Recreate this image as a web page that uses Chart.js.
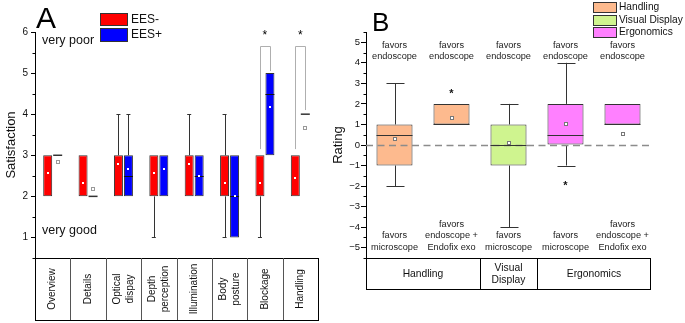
<!DOCTYPE html>
<html><head><meta charset="utf-8">
<script src="https://cdn.jsdelivr.net/npm/chart.js@4.4.1/dist/chart.umd.min.js"></script>
<style>
html,body{margin:0;padding:0;background:#fff;}
#wrap{position:relative;width:685px;height:323px;overflow:hidden;background:#fff;}
#ca{position:absolute;left:0;top:0;}
#cb{position:absolute;left:325px;top:0;}
</style></head><body>
<div id="wrap"><canvas id="ca" width="340" height="323"></canvas><canvas id="cb" width="360" height="323"></canvas></div>
<script>
const FONT = "'Liberation Sans', Arial, sans-serif";

// ---------------- Panel A data ----------------
const categoriesA = ['Overview', 'Details', ['Optical', 'dispay'], ['Depth', 'perception'], 'Illumination', ['Body', 'posture'], 'Blockage', 'Handling'];
const seriesA = ['EES-', 'EES+'];
const colorsA = ['#FF0000', '#0000FF'];
// EES-
const q1Minus   = [2, 2, 2, 2, 2, 2, 2, 2];
const q3Minus   = [3, 3, 3, 3, 3, 3, 3, 3];
const medMinus  = [3, 2, 3, 3, 3, 2, 2, 2];
const meanMinus = [2.56, 2.33, 2.78, 2.56, 2.78, 2.33, 2.33, 2.44];
const lowMinus  = [2, 2, 2, 1, 2, 1, 1, 2];
const highMinus = [3, 3, 4, 3, 4, 4, 3, 3];
// EES+
const q1Plus   = [3, 2, 2, 2, 2, 1, 3, 4];
const q3Plus   = [3, 2, 3, 3, 3, 3, 5, 4];
const medPlus  = [3, 2, 2.5, 3, 2.5, 2, 4.5, 4];
const meanPlus = [2.83, 2.17, 2.67, 2.67, 2.5, 2.0, 4.17, 3.67];
const lowPlus  = [3, 2, 2, 2, 2, 1, 3, 4];
const highPlus = [3, 2, 4, 3, 3, 3, 5, 4];
// significance brackets (category index, bracket top, left end, right end, star level)
const sigCats     = [6, 7];
const sigTop      = [5.65, 5.65];
const sigLeftEnd  = [3.15, 3.15];
const sigRightEnd = [5.05, 4.1];
const sigStar     = [5.95, 5.95];
const yTicksA = [1, 2, 3, 4, 5, 6];

// ---------------- Panel B data ----------------
const slotsB = ['H1', 'H2', 'V1', 'E1', 'E2'];
const seriesB = ['Handling', 'Visual Display', 'Ergonomics'];
const colorsB = ['#FDBA8E', '#CFF48F', '#FF80FF'];
const slotSeriesB = [0, 0, 1, 2, 2];
const q1B   = [-1, 1, -1, 0, 1];
const q3B   = [1, 2, 1, 2, 2];
const medB  = [0.5, 1, 0, 0.5, 1];
const meanB = [0.29, 1.32, 0.1, 1.02, 0.52];
const lowB  = [-2, 1, -4, -1, 1];
const highB = [3, 2, 2, 4, 2];
const outlierB = [null, 2.6, null, -1.9, null];
const topTextB = [['favors', 'endoscope'], ['favors', 'endoscope'], ['favors', 'endoscope'], ['favors', 'endoscope'], ['favors', 'endoscope']];
const bottomTextB = [['favors', 'microscope'], ['favors', 'endoscope +', 'Endofix exo'], ['favors', 'microscope'], ['favors', 'microscope'], ['favors', 'endoscope +', 'Endofix exo']];
const groupLabelsB = ['Handling', ['Visual', 'Display'], 'Ergonomics'];
const groupSizesB = [2, 1, 2];

// ---------------- helpers ----------------
function font(sz, w) { return (w ? w + ' ' : '') + sz + 'px ' + FONT; }
function line(ctx, x1, y1, x2, y2) { ctx.beginPath(); ctx.moveTo(x1, y1); ctx.lineTo(x2, y2); ctx.stroke(); }
function minorTicks(chart, len) {
  const ys = chart.scales.y, ctx = chart.ctx, x0 = chart.chartArea.left;
  ctx.save(); ctx.strokeStyle = '#000'; ctx.lineWidth = 1;
  for (let v = ys.min; v <= ys.max + 1e-9; v += 0.5) {
    if (Math.abs(v - Math.round(v)) < 1e-6) continue;
    const y = Math.round(ys.getPixelForValue(v)) + 0.5;
    line(ctx, x0 - len, y, x0, y);
  }
  ctx.restore();
}
const yTickColor = c => (c.tick && Number.isInteger(c.tick.value)) ? '#000' : 'rgba(0,0,0,0)';

// ---------------- Panel A ----------------
const catPctA = 0.565, barPctA = 0.9;
const statsA = [
  {q1: q1Minus, q3: q3Minus, med: medMinus, mean: meanMinus, low: lowMinus, high: highMinus},
  {q1: q1Plus, q3: q3Plus, med: medPlus, mean: meanPlus, low: lowPlus, high: highPlus}
];
function boxData(q1, q3) { return q1.map((v, i) => v === q3[i] ? null : [v, q3[i]]); }

const pluginA = {
  id: 'boxA',
  afterDatasetsDraw(chart) {
    const ctx = chart.ctx, xs = chart.scales.x, ys = chart.scales.y, ca = chart.chartArea;
    const n = categoriesA.length, catW = (ca.right - ca.left) / n;
    const slot = catW * catPctA / 2, bw = slot * barPctA;
    const Y = v => ys.getPixelForValue(v);
    ctx.save();
    statsA.forEach((s, d) => {
      for (let i = 0; i < n; i++) {
        const cx = xs.getPixelForValue(i) + (d === 0 ? -slot / 2 : slot / 2);
        const collapsed = s.q1[i] === s.q3[i];
        ctx.strokeStyle = '#333'; ctx.lineWidth = 1;
        if (s.high[i] > s.q3[i]) {
          line(ctx, Math.round(cx) + 0.5, Y(s.q3[i]), Math.round(cx) + 0.5, Y(s.high[i]));
          line(ctx, cx - 2, Math.round(Y(s.high[i])) + 0.5, cx + 2, Math.round(Y(s.high[i])) + 0.5);
        }
        if (s.low[i] < s.q1[i]) {
          line(ctx, Math.round(cx) + 0.5, Y(s.q1[i]), Math.round(cx) + 0.5, Y(s.low[i]));
          line(ctx, cx - 2, Math.round(Y(s.low[i])) + 0.5, cx + 2, Math.round(Y(s.low[i])) + 0.5);
        }
        if (collapsed) {
          ctx.strokeStyle = '#333'; ctx.lineWidth = 1.5;
          line(ctx, cx - bw / 2, Y(s.q1[i]), cx + bw / 2, Y(s.q1[i]));
          ctx.strokeStyle = '#999'; ctx.lineWidth = 1;
          ctx.strokeRect(Math.round(cx) - 1.5, Math.round(Y(s.mean[i])) - 1.5, 3, 3);
        } else {
          if (s.med[i] > s.q1[i] && s.med[i] < s.q3[i]) {
            ctx.strokeStyle = '#111'; ctx.lineWidth = 1;
            line(ctx, cx - bw / 2, Math.round(Y(s.med[i])) + 0.5, cx + bw / 2, Math.round(Y(s.med[i])) + 0.5);
          }
          ctx.fillStyle = '#fff';
          ctx.fillRect(Math.round(cx) - 1, Math.round(Y(s.mean[i])) - 1, 2, 2);
        }
      }
    });
    // brackets and stars
    sigCats.forEach((c, k) => {
      const xl = Math.round(xs.getPixelForValue(c) - slot / 2) + 0.5;
      const xr = Math.round(xs.getPixelForValue(c) + slot / 2) + 0.5;
      const yt = Math.round(Y(sigTop[k])) + 0.5;
      ctx.strokeStyle = '#AFAFAF'; ctx.lineWidth = 1;
      ctx.beginPath(); ctx.moveTo(xl, Y(sigLeftEnd[k])); ctx.lineTo(xl, yt); ctx.lineTo(xr, yt); ctx.lineTo(xr, Y(sigRightEnd[k])); ctx.stroke();
      ctx.fillStyle = '#000'; ctx.font = font(12); ctx.textAlign = 'center'; ctx.textBaseline = 'middle';
      ctx.fillText('*', xs.getPixelForValue(c), Y(sigStar[k]) + 2);
    });
    // annotations
    ctx.fillStyle = '#111'; ctx.font = font(12.5); ctx.textAlign = 'left'; ctx.textBaseline = 'middle';
    ctx.fillText('very poor', ca.left + 7, Y(5.78));
    ctx.fillText('very good', ca.left + 7, Y(1.16));
    // category table
    const tb = 320;
    ctx.strokeStyle = '#000'; ctx.lineWidth = 1;
    ctx.strokeRect(ca.left + 0.5, ca.bottom + 0.5, ca.right - ca.left, tb - ca.bottom);
    ctx.strokeStyle = '#555';
    for (let i = 1; i < n; i++) {
      const x = Math.round(ca.left + i * catW) + 0.5;
      line(ctx, x, ca.bottom, x, tb);
    }
    ctx.fillStyle = '#111'; ctx.font = font(10); ctx.textAlign = 'center'; ctx.textBaseline = 'middle';
    categoriesA.forEach((lab, i) => {
      const lines = Array.isArray(lab) ? lab : [lab];
      const cx = xs.getPixelForValue(i), cy = (ca.bottom + tb) / 2;
      ctx.save(); ctx.translate(cx, cy); ctx.rotate(-Math.PI / 2);
      lines.forEach((t, k) => ctx.fillText(t, 0, (k - (lines.length - 1) / 2) * 13));
      ctx.restore();
    });
    // legend
    seriesA.forEach((name, d) => {
      const y0 = d === 0 ? 13 : 28, h = d === 0 ? 12 : 13;
      ctx.fillStyle = colorsA[d]; ctx.fillRect(100, y0, 27, h);
      ctx.strokeStyle = '#333'; ctx.lineWidth = 1; ctx.strokeRect(100.5, y0 + 0.5, 27, h);
      ctx.fillStyle = '#111'; ctx.font = font(12); ctx.textAlign = 'left'; ctx.textBaseline = 'middle';
      ctx.fillText(name, 131, y0 + h / 2 + 0.5);
    });
    // panel letter
    ctx.fillStyle = '#000'; ctx.font = font(30); ctx.textAlign = 'left'; ctx.textBaseline = 'alphabetic';
    ctx.fillText('A', 36, 28);
    minorTicks(chart, 2.5);
    ctx.restore();
  }
};

new Chart(document.getElementById('ca'), {
  type: 'bar',
  data: {
    labels: categoriesA.map(l => Array.isArray(l) ? l.join(' ') : l),
    datasets: seriesA.map((name, d) => ({
      label: name,
      data: boxData(statsA[d].q1, statsA[d].q3),
      backgroundColor: colorsA[d], borderColor: '#333', borderWidth: 1, borderSkipped: false,
      categoryPercentage: catPctA, barPercentage: barPctA
    }))
  },
  options: {
    responsive: false, animation: false, devicePixelRatio: 1,
    layout: {padding: {left: 0, right: 22, top: 32, bottom: 65}},
    plugins: {legend: {display: false}, tooltip: {enabled: false}},
    scales: {
      x: {display: false},
      y: {
        min: 0.5, max: 6,
        afterFit: s => { s.width = 35; },
        title: {display: true, text: 'Satisfaction', color: '#111', font: {family: FONT, size: 13}, padding: {top: 4, bottom: 0}},
        ticks: {stepSize: 0.5, autoSkip: false, padding: 3, color: '#111', font: {family: FONT, size: 10},
          callback: v => yTicksA.includes(v) ? String(v) : ''},
        grid: {drawOnChartArea: false, tickLength: 4, tickColor: yTickColor},
        border: {display: true, color: '#000', width: 1}
      }
    }
  },
  plugins: [pluginA]
});

// ---------------- Panel B ----------------
const catPctB = 0.8, barPctB = 0.79;
const pluginB = {
  id: 'boxB',
  afterDatasetsDraw(chart) {
    const ctx = chart.ctx, xs = chart.scales.x, ys = chart.scales.y, ca = chart.chartArea;
    const n = slotsB.length, catW = (ca.right - ca.left) / n;
    const Y = v => ys.getPixelForValue(v);
    ctx.save();
    const geo = slotsB.map((_, i) => {
      const el = chart.getDatasetMeta(slotSeriesB[i]).data[i];
      return {cx: el.x, bw: el.width};
    });
    // whiskers
    ctx.strokeStyle = '#333'; ctx.lineWidth = 1;
    geo.forEach((g, i) => {
      const cx = Math.round(g.cx) + 0.5, cw = g.bw / 4;
      if (highB[i] > q3B[i]) { line(ctx, cx, Y(q3B[i]), cx, Y(highB[i])); line(ctx, cx - cw, Math.round(Y(highB[i])) + 0.5, cx + cw, Math.round(Y(highB[i])) + 0.5); }
      if (lowB[i] < q1B[i]) { line(ctx, cx, Y(q1B[i]), cx, Y(lowB[i])); line(ctx, cx - cw, Math.round(Y(lowB[i])) + 0.5, cx + cw, Math.round(Y(lowB[i])) + 0.5); }
    });
    // zero line
    ctx.strokeStyle = '#8C8C8C'; ctx.lineWidth = 1.5; ctx.setLineDash([7, 4.5]);
    line(ctx, ca.left, Math.round(Y(0)) + 0.5, ca.right - 1, Math.round(Y(0)) + 0.5);
    ctx.setLineDash([]);
    // medians, means, outliers
    geo.forEach((g, i) => {
      if (medB[i] >= q1B[i] && medB[i] < q3B[i]) {
        ctx.strokeStyle = '#333'; ctx.lineWidth = 1.2;
        const y = Math.round(Y(medB[i])) + 0.5;
        line(ctx, g.cx - g.bw / 2, y, g.cx + g.bw / 2, y);
      }
      ctx.fillStyle = '#fff'; ctx.strokeStyle = '#777'; ctx.lineWidth = 1;
      const mx = Math.round(g.cx) - 1.5, my = Math.round(Y(meanB[i])) - 1.5;
      ctx.fillRect(mx, my, 3, 3); ctx.strokeRect(mx, my, 3, 3);
      if (outlierB[i] !== null) {
        ctx.fillStyle = '#111'; ctx.font = font(11, 'bold'); ctx.textAlign = 'center'; ctx.textBaseline = 'middle';
        ctx.fillText('*', g.cx, Y(outlierB[i]) + 2);
      }
    });
    // texts
    ctx.fillStyle = '#222'; ctx.font = font(9.2); ctx.textAlign = 'center'; ctx.textBaseline = 'middle';
    slotsB.forEach((_, i) => {
      const cx = xs.getPixelForValue(i);
      topTextB[i].forEach((t, k) => ctx.fillText(t, cx, Y(4.86) + k * 11.4));
      const b = bottomTextB[i], L = b.length;
      b.forEach((t, k) => ctx.fillText(t, cx, Y(-4.97) - (L - 1 - k) * 11.4));
    });
    // table
    const tb = 289;
    ctx.strokeStyle = '#000'; ctx.lineWidth = 1;
    ctx.strokeRect(ca.left + 0.5, ca.bottom + 0.5, ca.right - ca.left - 1, tb - ca.bottom);
    let acc = 0;
    ctx.fillStyle = '#111'; ctx.font = font(10.3);
    groupLabelsB.forEach((lab, gi) => {
      const x0 = ca.left + acc * catW, x1 = ca.left + (acc + groupSizesB[gi]) * catW;
      if (gi > 0) line(ctx, Math.round(x0) + 0.5, ca.bottom, Math.round(x0) + 0.5, tb);
      const lines = Array.isArray(lab) ? lab : [lab];
      lines.forEach((t, k) => ctx.fillText(t, (x0 + x1) / 2, (ca.bottom + tb) / 2 + 0.5 + (k - (lines.length - 1) / 2) * 12));
      acc += groupSizesB[gi];
    });
    // legend
    const ly = [2, 15, 27];
    seriesB.forEach((name, d) => {
      ctx.fillStyle = colorsB[d]; ctx.fillRect(268, ly[d], 23, 10);
      ctx.strokeStyle = '#333'; ctx.lineWidth = 1; ctx.strokeRect(268.5, ly[d] + 0.5, 23, 10);
      ctx.fillStyle = '#111'; ctx.font = font(10.2); ctx.textAlign = 'left'; ctx.textBaseline = 'middle';
      ctx.fillText(name, 294, ly[d] + 5.5);
    });
    ctx.fillStyle = '#000'; ctx.font = font(26); ctx.textAlign = 'left'; ctx.textBaseline = 'alphabetic';
    ctx.fillText('B', 47, 31);
    minorTicks(chart, 2.5);
    ctx.restore();
  }
};

new Chart(document.getElementById('cb'), {
  type: 'bar',
  data: {
    labels: slotsB,
    datasets: seriesB.map((name, d) => ({
      label: name,
      data: slotsB.map((_, i) => slotSeriesB[i] === d ? [q1B[i], q3B[i]] : null),
      backgroundColor: colorsB[d], borderColor: '#333', borderWidth: 1, borderSkipped: false,
      categoryPercentage: catPctB, barPercentage: barPctB, skipNull: true, grouped: true
    }))
  },
  options: {
    responsive: false, animation: false, devicePixelRatio: 1,
    layout: {padding: {left: 0, right: 34, top: 32, bottom: 65}},
    plugins: {legend: {display: false}, tooltip: {enabled: false}},
    scales: {
      x: {display: false},
      y: {
        min: -5.5, max: 5.5,
        afterFit: s => { s.width = 41; },
        title: {display: true, text: 'Rating', color: '#111', font: {family: FONT, size: 13}, padding: {top: 6, bottom: 0}},
        ticks: {stepSize: 0.5, autoSkip: false, padding: 1, color: '#111', font: {family: FONT, size: 9.5},
          callback: v => Number.isInteger(v) ? String(v).replace('-', '\u2212') : ''},
        grid: {drawOnChartArea: false, tickLength: 5, tickColor: yTickColor},
        border: {display: true, color: '#000', width: 1}
      }
    }
  },
  plugins: [pluginB]
});
</script>
</body></html>
